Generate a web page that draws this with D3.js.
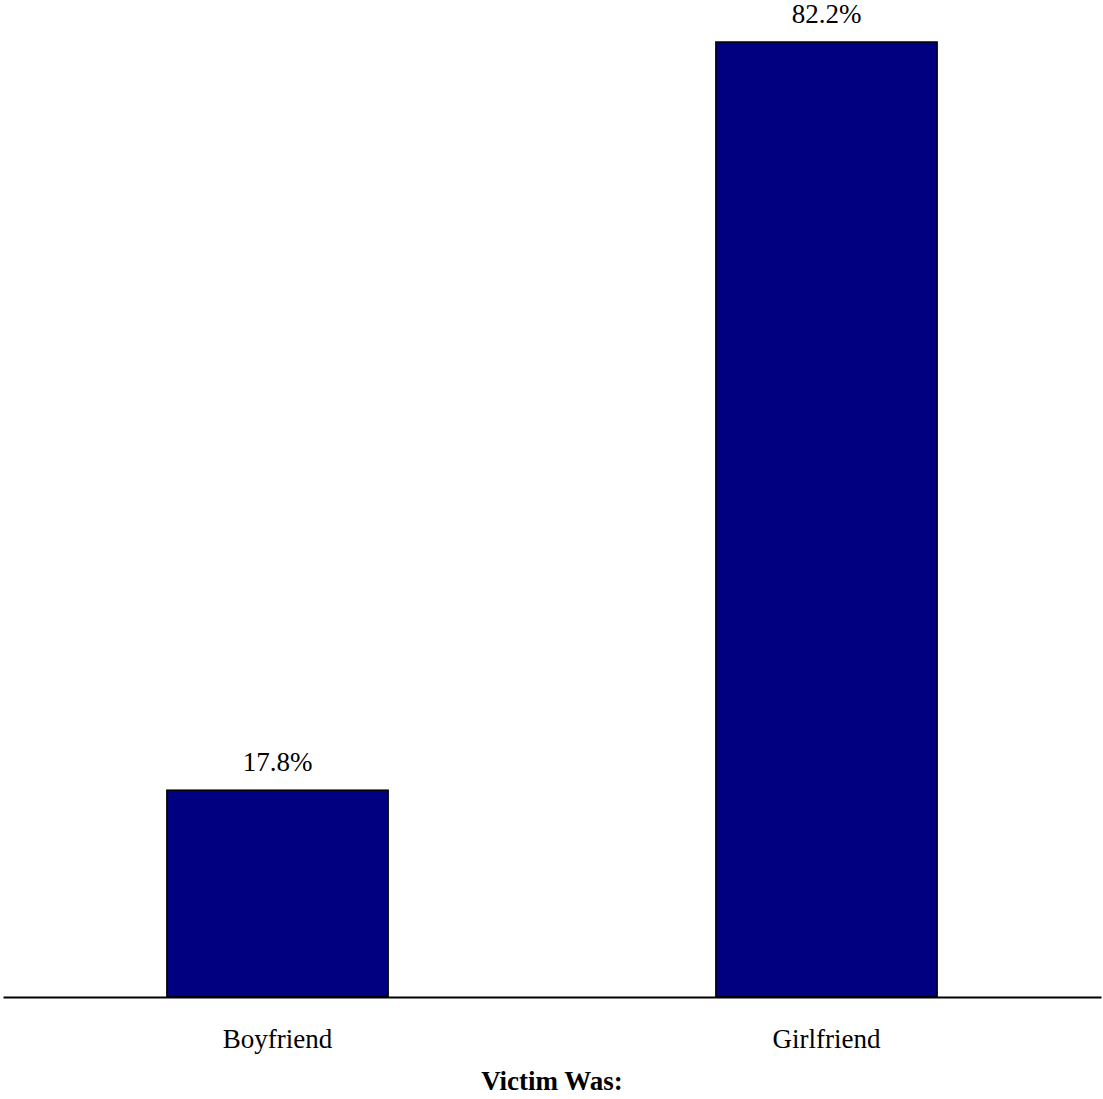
<!DOCTYPE html>
<html>
<head>
<meta charset="utf-8">
<script src="https://cdn.jsdelivr.net/npm/d3@7/dist/d3.min.js"></script>
<style>
  html, body { margin: 0; padding: 0; background: #fff; }
  svg { display: block; }
  text { font-family: "Liberation Serif", "Times New Roman", serif; fill: #000; }
</style>
</head>
<body>
<script>
const categories = ["Boyfriend", "Girlfriend"];
const values = [17.8, 82.2];
const valueLabels = ["17.8%", "82.2%"];
const axisTitle = "Victim Was:";

const W = 1103, H = 1099;
const svg = d3.select("body").append("svg").attr("width", W).attr("height", H);

const x = d3.scaleBand().domain(categories).range([3, 1101]).paddingInner(0.597).paddingOuter(0.2985);
const y = d3.scaleLinear().domain([0, 82.2]).range([997, 42]);

const data = categories.map((c, i) => ({ c, v: values[i], l: valueLabels[i] }));

svg.selectAll("rect.bar").data(data).join("rect")
  .attr("class", "bar")
  .attr("x", d => x(d.c))
  .attr("y", d => y(d.v))
  .attr("width", x.bandwidth())
  .attr("height", d => y(0) - y(d.v))
  .attr("fill", "#000080")
  .attr("stroke", "#000")
  .attr("stroke-width", 1.5);

svg.selectAll("text.val").data(data).join("text")
  .attr("class", "val")
  .attr("x", d => x(d.c) + x.bandwidth() / 2)
  .attr("y", d => y(d.v) - 19)
  .attr("text-anchor", "middle")
  .attr("font-size", 27)
  .text(d => d.l);

// baseline axis
const axis = d3.axisBottom(x).tickSize(0).tickPadding(32);
const g = svg.append("g").attr("transform", `translate(0,${y(0)})`).call(axis);
g.attr("font-family", null).attr("font-size", null);
g.select(".domain").attr("stroke", "#000").attr("stroke-width", 2);
g.selectAll(".tick text").attr("font-size", 27).attr("fill", "#000");

svg.append("text")
  .attr("x", (x.range()[0] + x.range()[1]) / 2)
  .attr("y", 1090)
  .attr("text-anchor", "middle")
  .attr("font-size", 27)
  .attr("font-weight", "bold")
  .text(axisTitle);
</script>
</body>
</html>
